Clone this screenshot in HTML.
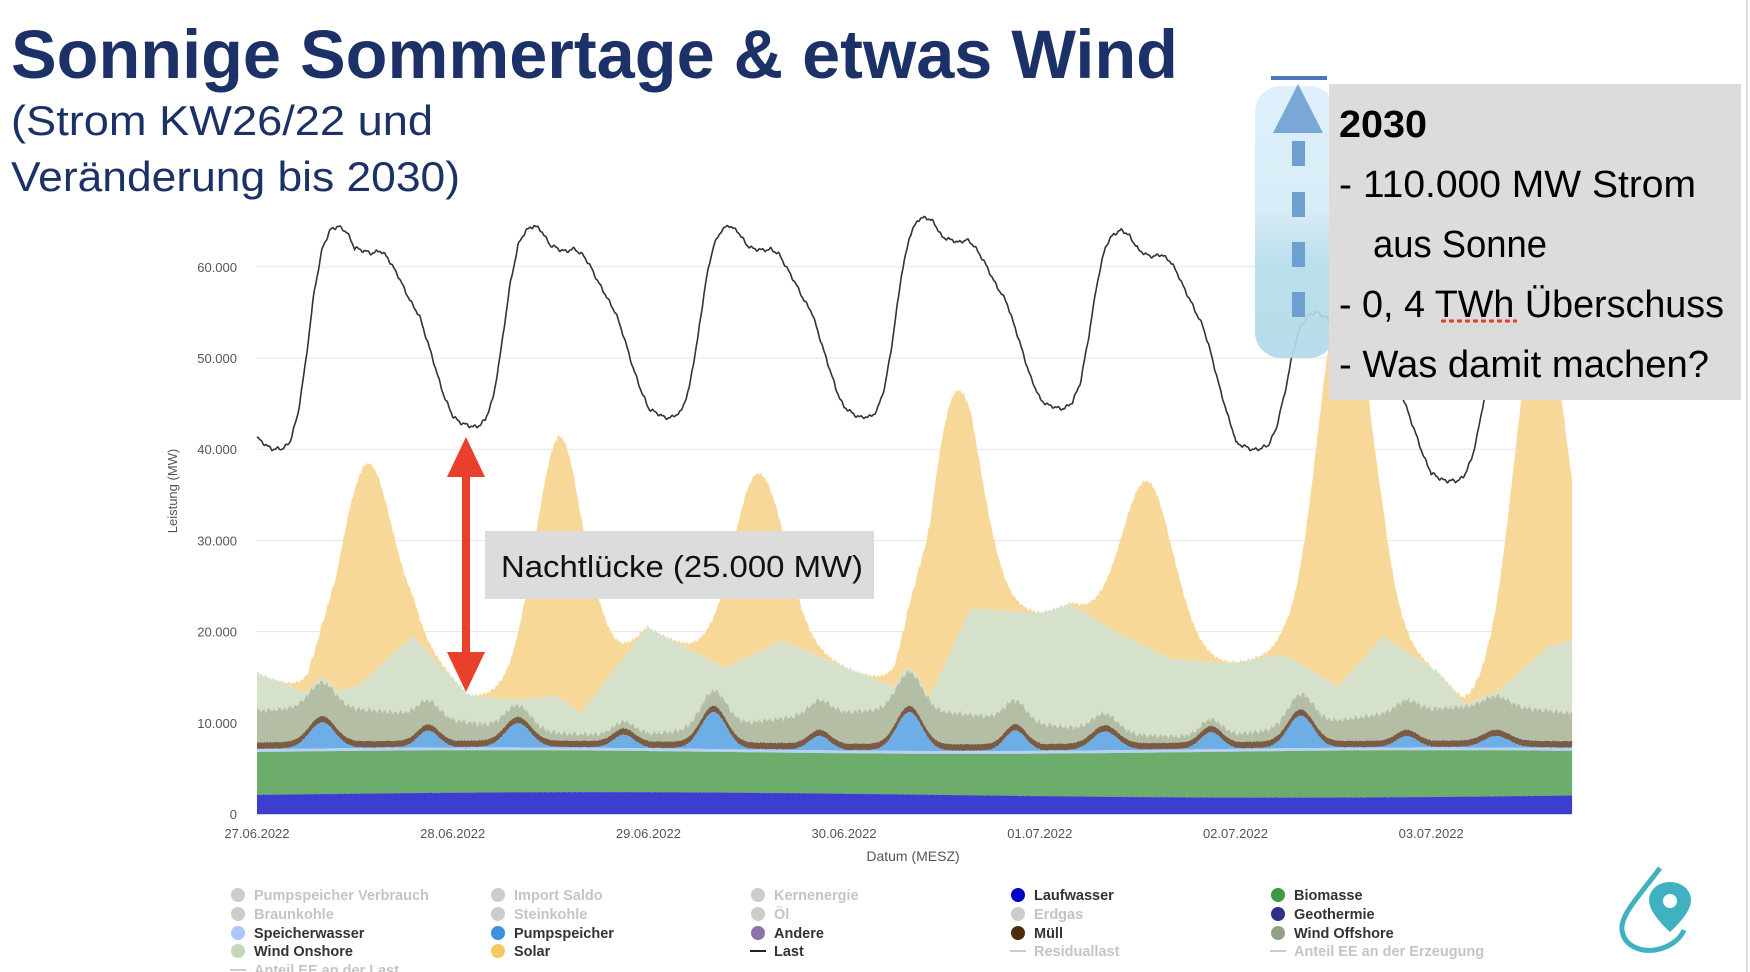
<!DOCTYPE html>
<html><head><meta charset="utf-8"><style>
html,body{margin:0;padding:0;background:#fff;}
svg{display:block;}
</style></head><body>
<svg id="s" width="1750" height="972" viewBox="0 0 1750 972" xmlns="http://www.w3.org/2000/svg" font-family="Liberation Sans, DejaVu Sans, sans-serif">
<rect width="1750" height="972" fill="#fff"/>
<line x1="1747" y1="0" x2="1747" y2="972" stroke="#ddd" stroke-width="2"/>
<text x="11" y="78" font-size="69" font-weight="bold" fill="#1b3168" textLength="1167" lengthAdjust="spacingAndGlyphs">Sonnige Sommertage &amp; etwas Wind</text>
<text x="11" y="135" font-size="42" fill="#1b3168" textLength="422" lengthAdjust="spacingAndGlyphs">(Strom KW26/22 und</text>
<text x="11" y="191" font-size="42" fill="#1b3168" textLength="449" lengthAdjust="spacingAndGlyphs">Veränderung bis 2030)</text>
<g id="grid" stroke="#e6e6e6" stroke-width="1"></g>
<g id="areas"></g>
<g id="axes" font-size="13" fill="#555"></g>
<text transform="translate(177,491) rotate(-90)" font-size="13" fill="#555" text-anchor="middle">Leistung (MW)</text>
<text x="913" y="861" font-size="14" fill="#555" text-anchor="middle">Datum (MESZ)</text>
<g id="legend" font-size="14.5" font-weight="bold"></g>
<g>
<rect x="462" y="470" width="8" height="190" fill="#e8402a"/>
<polygon points="447,477 466,437 485,477" fill="#e8402a"/>
<polygon points="447,652 466,692 485,652" fill="#e8402a"/>
</g>
<rect x="485" y="531" width="389" height="68" fill="#dcdcdc"/>
<text x="501" y="577" font-size="31" fill="#111" textLength="362" lengthAdjust="spacingAndGlyphs">Nachtlücke (25.000 MW)</text>
<defs><linearGradient id="bg" x1="0" y1="0" x2="0" y2="1"><stop offset="0" stop-color="#dbeffb"/><stop offset="0.45" stop-color="#d4ebf6"/><stop offset="0.65" stop-color="#b6dceb"/><stop offset="1" stop-color="#b2d9e9"/></linearGradient></defs>
<rect x="1255" y="86" width="80" height="272" rx="26" fill="url(#bg)" opacity="0.92"/>
<rect x="1271" y="76" width="56" height="4" fill="#4f77b8"/>
<polygon points="1273,133 1298,84 1323,133" fill="#7ba7d6"/>
<g fill="#6d9fd0"><rect x="1292" y="141" width="13" height="25"/><rect x="1292" y="192" width="13" height="25"/><rect x="1292" y="242" width="13" height="25"/><rect x="1292" y="292" width="13" height="25"/></g>
<rect x="1329" y="84" width="412" height="316" fill="#dcdcdc"/>
<g font-size="38" fill="#000">
<text x="1339" y="137" font-weight="bold" textLength="88" lengthAdjust="spacingAndGlyphs">2030</text>
<text x="1339" y="197" textLength="357" lengthAdjust="spacingAndGlyphs">- 110.000 MW Strom</text>
<text x="1373" y="257" textLength="174" lengthAdjust="spacingAndGlyphs">aus Sonne</text>
<text x="1339" y="317" textLength="385" lengthAdjust="spacingAndGlyphs">-  0, 4 TWh Überschuss</text>
<text x="1339" y="377" textLength="370" lengthAdjust="spacingAndGlyphs">-  Was damit machen?</text>
</g>
<line x1="1441" y1="321" x2="1517" y2="321" stroke="#e8402a" stroke-width="3" stroke-dasharray="5,3"/>
<g fill="none" stroke="#3fb1c0" stroke-width="5">
<path d="M1660,868 C1640,895 1620,915 1622,930 C1624,946 1640,952 1655,950 C1668,948 1680,940 1684,930"/>
</g>
<path d="M1670,882 C1655,882 1646,894 1650,906 C1654,918 1670,932 1670,932 C1670,932 1686,918 1690,906 C1694,894 1685,882 1670,882 Z" fill="#3fb1c0"/>
<circle cx="1670" cy="901" r="7" fill="#fff"/>
</svg>
<script>
(function(){
var NS="http://www.w3.org/2000/svg";
function X(t){return 257+t*195.7;}
function Y(v){return 814-v*0.00912;}
function el(n,a,p){var e=document.createElementNS(NS,n);for(var k in a)e.setAttribute(k,a[k]);p.appendChild(e);return e;}
var grid=document.getElementById('grid'),axes=document.getElementById('axes'),areas=document.getElementById('areas');
for(var i=1;i<=6;i++){el('line',{x1:257,x2:1571,y1:Y(i*10000),y2:Y(i*10000)},grid);}
var yl=["0","10.000","20.000","30.000","40.000","50.000","60.000"];
for(var i=0;i<=6;i++){var t=el('text',{x:237,y:Y(i*10000)+5,'text-anchor':'end'},axes);t.textContent=yl[i];}
var dl=["27.06.2022","28.06.2022","29.06.2022","30.06.2022","01.07.2022","02.07.2022","03.07.2022"];
for(var i=0;i<7;i++){var t=el('text',{x:X(i),y:838,'text-anchor':'middle'},axes);t.textContent=dl[i];}
el('line',{x1:257,x2:1571,y1:814.5,y2:814.5,stroke:'#ccd6eb','stroke-width':1},axes);
function interp(pts,t){ if(t<=pts[0][0])return pts[0][1]; for(var i=1;i<pts.length;i++){if(t<=pts[i][0]){var a=pts[i-1],b=pts[i];var f=(t-a[0])/(b[0]-a[0]);return a[1]+(b[1]-a[1])*f;}} return pts[pts.length-1][1];}
var wr=[[230,15500],[280,13000],[320,14000],[370,19500],[420,13000],[460,12500],[500,13000],[520,11000],[580,20500],[650,16000],[700,19000],[770,15500],[800,14000],[830,12000],[870,22500],[930,22000],[960,23000],[1000,20000],[1050,17000],[1100,16500],[1150,17500],[1200,14000],[1240,19500],[1290,15500],[1320,11000],[1390,18500],[1410,19000]];
var wp=wr.map(function(p){return [(p[0]-230)/175.5,p[1]];});
var lo=[40,42.5,43.5,43.5,44.5,40,36.5,40], hi=[64.5,64.5,64.5,65.5,64,55,53,53];
var sh=[0.05,0.02,0,0,0.03,0.15,0.4,0.7,0.9,0.98,1,0.97,0.9,0.88,0.87,0.88,0.85,0.78,0.7,0.62,0.55,0.42,0.28,0.15,0.05];
var solA=[23500,28600,19600,27500,18200,43600,38000];
var pumpA=[[2800,1800],[2600,1400],[4000,1500],[4200,2200],[2000,1800],[3500,1200],[1200,1500]];
function noise(t){return Math.sin(t*137.1)*0.5+Math.sin(t*311.7)*0.3+Math.sin(t*71.3)*0.2;}
var T1=6.72,N=1400,L=[[],[],[],[],[],[],[],[]],load=[];
for(var i=0;i<=N;i++){
 var t=T1*i/N, d=Math.floor(t), h=(t-d)*24; if(d>6)d=6;
 var hi_i=Math.floor(h), f=h-hi_i, s=sh[hi_i]+(sh[hi_i+1]-sh[hi_i])*f;
 var lw=lo[d]*(1-h/24)+lo[d+1]*(h/24); if(h<12) lw=lo[d];
 var ld=(lw+(hi[d]-lw)*s)*1000+noise(t)*250; load.push(ld);
 var l1=2100+300*Math.sin(t*0.9)+60*noise(t*3);
 var l2=6800+200*Math.sin(t*1.3);
 var l3=l2+300;
 var pa=pumpA[d], pump=pa[0]*Math.exp(-Math.pow((h-8)/2.2,2))+pa[1]*Math.exp(-Math.pow((h-21)/1.8,2))+150*Math.abs(noise(t*2));
 var l4=l3+pump, l5=l4+700;
 var off=2200+1500*Math.sin(t*2.1+1)+400*noise(t*1.7); if(off<500)off=500;
 var l6=l5+off;
 var w=interp(wp,t)+250*noise(t*2.3); var l7=Math.max(w,l6+400);
 var sol=solA[d]*Math.exp(-Math.pow((h-13.3)/3.2,2)/2); if(sol<50)sol=0;
 var l8=l7+sol;
 var arr=[0,l1,l2,l3,l4,l5,l6,l7,l8];
 for(var k=0;k<8;k++)L[k].push([X(t),Y(arr[k]),Y(arr[k+1])]);
}
var cols=["#3d3dcf","#6cad6c","#b9d0f5","#6daee6","#7a5c45","#b4bea4","#d5e1cb","#f8d898"];
for(var k=7;k>=0;k--){
 var p=L[k],d="M"+p[0][0].toFixed(1)+","+p[0][2].toFixed(1);
 for(var i=1;i<p.length;i++)d+="L"+p[i][0].toFixed(1)+","+p[i][2].toFixed(1);
 for(var i=p.length-1;i>=0;i--)d+="L"+p[i][0].toFixed(1)+","+p[i][1].toFixed(1);
 el('path',{d:d+"Z",fill:cols[k]},areas);
}
var d="";for(var i=0;i<=N;i++){d+=(i?"L":"M")+X(T1*i/N).toFixed(1)+","+Y(load[i]).toFixed(1);}
el('path',{d:d,fill:'none',stroke:'#333','stroke-width':1.6},areas);
var lg=document.getElementById('legend');
var cx=[238,498,758,1018,1278], ry=[895,914,933,951,970];
var items=[
[["Pumpspeicher Verbrauch",0,"#ccc"],["Braunkohle",0,"#ccc"],["Speicherwasser",1,"#a9c6ff"],["Wind Onshore",1,"#c3d9b6"],["Anteil EE an der Last",2,"#ccc"]],
[["Import Saldo",0,"#ccc"],["Steinkohle",0,"#ccc"],["Pumpspeicher",1,"#3d8fe0"],["Solar",1,"#f5c763"]],
[["Kernenergie",0,"#ccc"],["Öl",0,"#ccc"],["Andere",1,"#8b73ab"],["Last",3,"#222"]],
[["Laufwasser",1,"#0000c8"],["Erdgas",0,"#ccc"],["Müll",1,"#4b2d0e"],["Residuallast",2,"#ccc"]],
[["Biomasse",1,"#3e9a40"],["Geothermie",1,"#2f2f8c"],["Wind Offshore",1,"#92a286"],["Anteil EE an der Erzeugung",2,"#ccc"]]];
for(var c=0;c<5;c++)for(var r=0;r<items[c].length;r++){
 var it=items[c][r],x=cx[c],y=ry[r];
 if(it[1]>=2) el('rect',{x:x-8,y:y-1,width:16,height:2,fill:it[2]},lg);
 else el('circle',{cx:x,cy:y,r:7,fill:it[2]},lg);
 var tt=el('text',{x:x+16,y:y+5,fill:(it[1]==1||it[1]==3)?'#333':'#c4c4c4'},lg); tt.textContent=it[0];
}
})();
</script>
</body></html>
